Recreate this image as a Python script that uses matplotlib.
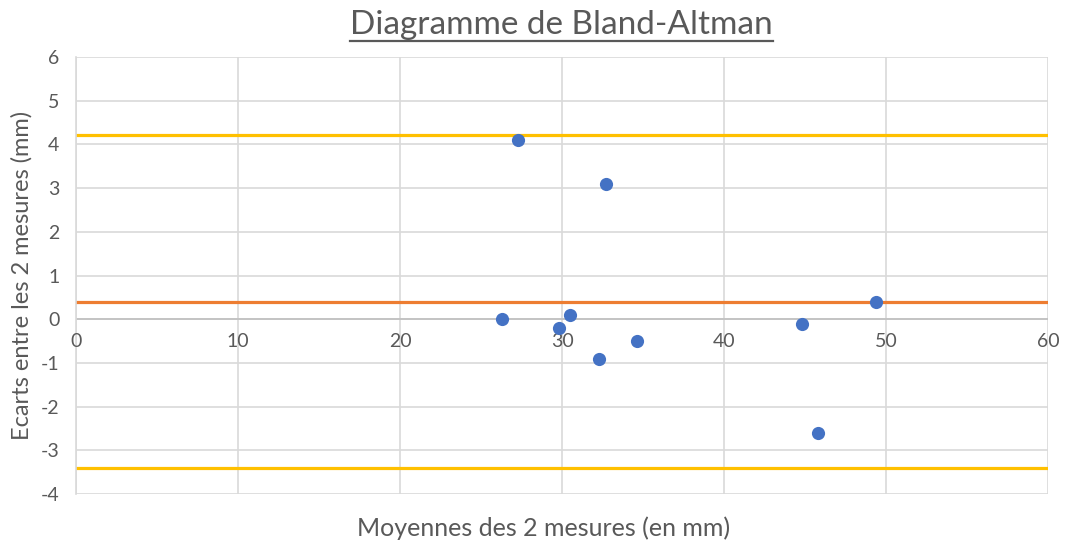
import matplotlib.pyplot as plt
from matplotlib.lines import Line2D

# mean of the two measurements (mm) and difference between them (mm)
moyennes = [27.3, 32.7, 26.3, 30.5, 29.8, 34.6, 32.3, 49.4, 44.8, 45.8]
ecarts = [4.1, 3.1, 0.0, 0.1, -0.2, -0.5, -0.9, 0.4, -0.1, -2.6]

biais = 0.4
limite_haute = 4.21
limite_basse = -3.41

x_ticks = [0, 10, 20, 30, 40, 50, 60]
y_ticks = [-4, -3, -2, -1, 0, 1, 2, 3, 4, 5, 6]

plt.rcParams["font.family"] = ["Lato", "DejaVu Sans"]
plt.rcParams["axes.unicode_minus"] = False
gris = "#595959"
grille = "#d9d9d9"

fig = plt.figure(figsize=(10.65, 5.46), dpi=100)
ax = fig.add_axes([0.0714, 0.0952, 0.9126, 0.8004])

ax.set_xlim(x_ticks[0], x_ticks[-1])
ax.set_ylim(y_ticks[0], y_ticks[-1])
ax.set_xticks(x_ticks)
ax.set_yticks(y_ticks)
ax.grid(True, color=grille, linewidth=1.2)
ax.set_axisbelow(True)

for side in ["top", "right", "bottom"]:
    ax.spines[side].set_visible(False)
ax.spines["left"].set_color(grille)
ax.spines["left"].set_linewidth(1.2)
ax.axhline(0, color="#bfbfbf", linewidth=1.2, zorder=1)

ax.tick_params(length=0, labelsize=14, labelcolor=gris)
ax.tick_params(axis="y", pad=12)
# x tick labels sit just under the zero line, Excel style
ax.xaxis.set_ticks_position("none")
for lab in ax.get_xticklabels():
    lab.set_visible(False)
for t in x_ticks:
    ax.text(t, -0.52, str(t), ha="center", va="center", fontsize=14, color=gris)

ax.axhline(limite_haute, color="#FFC000", linewidth=2.3, zorder=2)
ax.axhline(limite_basse, color="#FFC000", linewidth=2.3, zorder=2)
ax.axhline(biais, color="#ED7D31", linewidth=2.3, zorder=2)
ax.scatter(moyennes, ecarts, s=90, color="#4472C4", zorder=3, linewidths=0)

ax.set_ylabel("Ecarts entre les 2 mesures (mm)", fontsize=17, color=gris, labelpad=6)
fig.text(0.51, 0.033, "Moyennes des 2 mesures (en mm)", ha="center", va="center",
         fontsize=18, color=gris)

titre = fig.text(0.527, 0.955, "Diagramme de Bland-Altman", ha="center", va="center",
                 fontsize=24, color=gris)
fig.canvas.draw()
bb = titre.get_window_extent().transformed(fig.transFigure.inverted())
fig.add_artist(Line2D([bb.x0, bb.x1], [bb.y0 - 0.002, bb.y0 - 0.002],
                      transform=fig.transFigure, color=gris, linewidth=1.6))

fig.savefig("out.png", dpi=100)
